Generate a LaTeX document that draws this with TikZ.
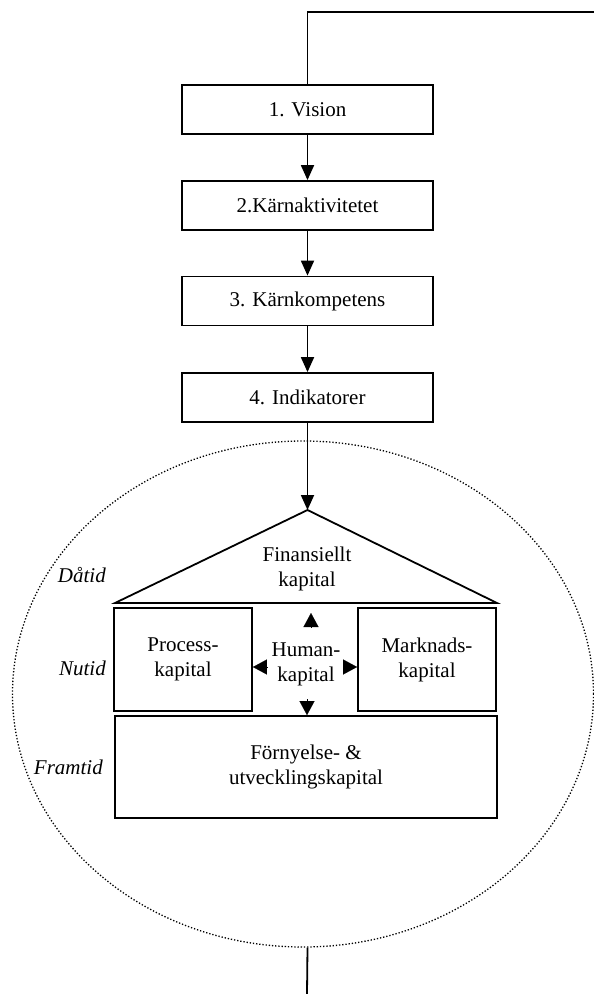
\documentclass[tikz,border=0pt]{standalone}
\usepackage{fontspec}
\setmainfont{Liberation Serif}
\usetikzlibrary{arrows.meta,shapes.geometric}
\begin{document}
\begin{tikzpicture}[x=1pt,y=-1pt,
  every node/.style={font=\fontsize{21}{25}\selectfont, align=center, inner sep=0pt},
  stepbox/.style={draw, line width=1.8pt, minimum width=251pt, minimum height=49pt},
  capbox/.style={draw, line width=1.8pt, minimum width=138pt, minimum height=103pt},
  flow/.style={line width=1.8pt, -{Triangle[width=13pt,length=15pt]}},
  hhead/.style={line width=0.1pt, -{Triangle[width=15pt,length=14pt]}},
  era/.style={anchor=east, font=\fontsize{21}{25}\selectfont\itshape},
  plain/.style={line width=1.8pt}]
\useasboundingbox (0,0) rectangle (594,994);

% cycle boundary
\node[draw, ellipse, line width=1.3pt, dash pattern=on 1.3pt off 1.9pt,
      minimum width=581pt, minimum height=506pt] (ell) at (303,694) {};

% process steps
\node[stepbox] (v1) at (307.5,109.5) {1. Vision};
\node[stepbox] (v2) at (307.5,205.5) {2.Kärnaktivitetet};
\node[stepbox] (v3) at (307.5,301)   {3. Kärnkompetens};
\node[stepbox] (v4) at (307.5,397.5) {4. Indikatorer};

\coordinate (tr) at (594,12);
\draw[plain] (v1.north) |- (tr);

\draw[flow] (v1) -- (v2);
\draw[flow] (v2) -- (v3);
\draw[flow] (v3) -- (v4);

% the capital "house"
\coordinate (apex) at (307.5,510);
\coordinate (bl) at (115,603);
\coordinate (br) at (497,603);
\draw[plain, line join=miter] (bl) -- (apex) -- (br) -- cycle;
\node (fin) at (307,569) {Finansiellt\\kapital};

\draw[flow] (v4) -- (apex);

\node[capbox] (proc) at (183,659.5) {Process-\\kapital};
\node[capbox] (mark) at (427,659.5) {Marknads-\\kapital};
\node (human) at (306,664) {Human-\\kapital};
\node[draw, line width=1.8pt, minimum width=382pt, minimum height=102pt] (fut) at (306,767) {};
\node (futtext) at (306,767) {Förnyelse- \&\\utvecklingskapital};

% small arrowheads around human capital
\coordinate (hu) at (311,627);
\coordinate (hd) at (307,699);
\coordinate (hl) at (267,667);
\coordinate (hr) at (344,667);
\draw[hhead] (hu) -- (311,613);
\draw[hhead] (hd) -- (hd |- fut.north);
\draw[hhead] (hl) -- (proc.east |- hl);
\draw[hhead] (hr) -- (mark.west |- hr);

% time labels
\node[era] (dat) at (106,575) {Dåtid};
\node[era] (nut) at (106,668) {Nutid};
\node[era] (fra) at (103,767) {Framtid};

% outgoing line
\coordinate (out) at (307,994);
\draw[plain] (v4 |- ell.south) -- (out);
\end{tikzpicture}
\end{document}
